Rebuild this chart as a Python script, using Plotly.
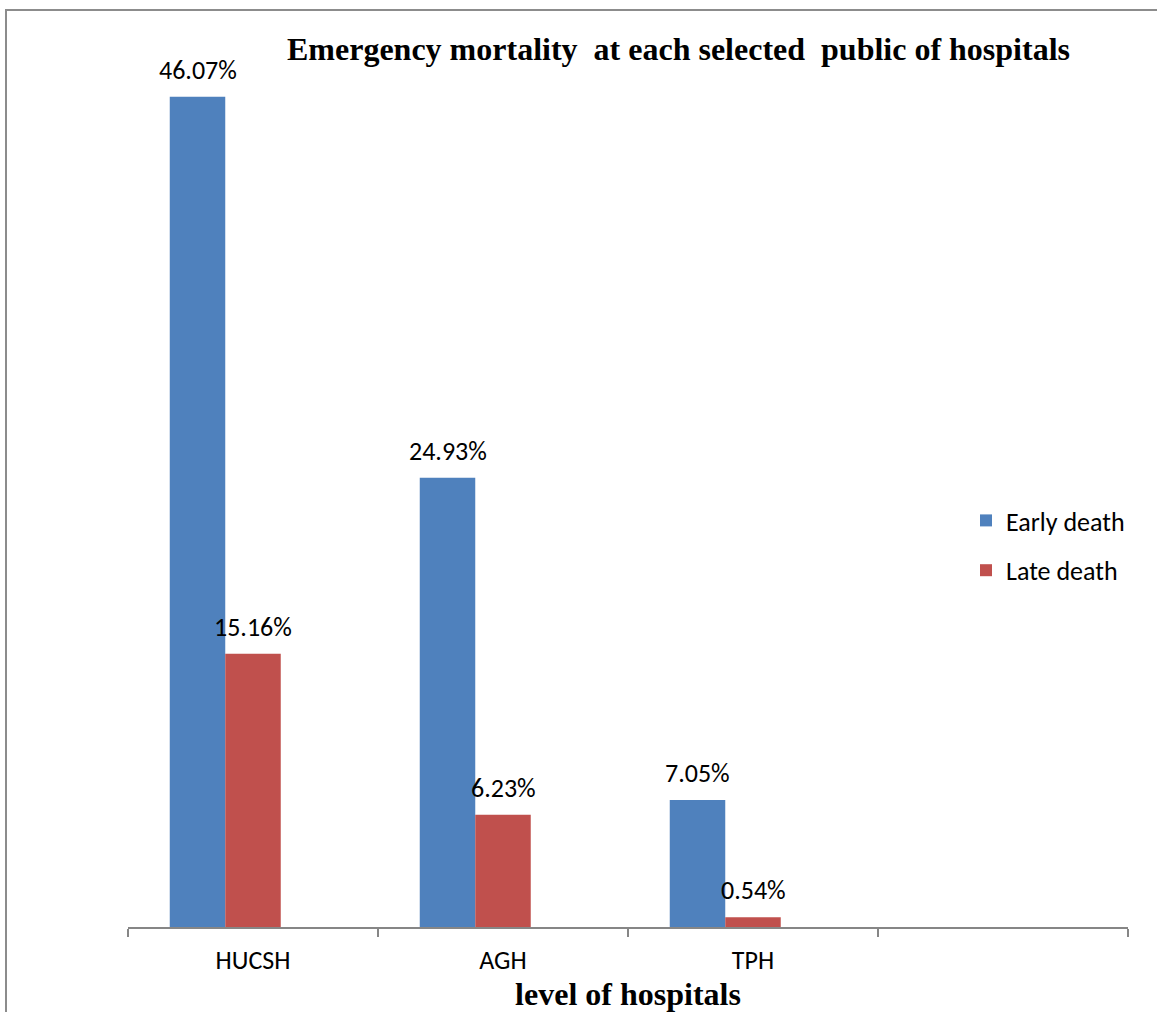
import plotly.graph_objects as go

# Emergency mortality by hospital (percent of deaths)
hospitals = ["HUCSH", "AGH", "TPH"]
early_death = [46.07, 24.93, 7.05]
late_death = [15.16, 6.23, 0.54]
series_names = ["Early death", "Late death"]
series_colors = ["#4F81BD", "#C0504D"]

title_text = "Emergency mortality\u00a0 at each selected\u00a0 public of hospitals"
x_title = "level of hospitals"

W, H = 1157, 1012
M_L, M_R, M_T, M_B = 128, 29, 26, 85
plot_w = W - M_L - M_R
plot_h = H - M_T - M_B

# category slots: three hospitals plus one empty slot on the right
categories = hospitals + [" "]
bar_w = 0.222
offsets = [-0.333, -0.111]

label_font = dict(family="Carlito, Lato, sans-serif", size=26, color="#000000")
serif_bold = dict(family="Liberation Serif, Times New Roman, serif", size=32, color="#000000")

fig = go.Figure()
for name, vals, color, off in zip(series_names, [early_death, late_death], series_colors, offsets):
    fig.add_trace(go.Bar(
        x=hospitals, y=vals, name=name,
        marker=dict(color=color, line=dict(width=0)),
        width=bar_w, offset=off,
        legendgroup=name,
    ))
    for i, v in enumerate(vals):
        fig.add_annotation(
            x=i + off + bar_w / 2, y=v, xref="x", yref="y",
            text=f"{v:.2f}%", showarrow=False,
            yanchor="bottom", yshift=9, font=label_font,
        )

def px_x(px):
    return (px - M_L) / plot_w

def px_y(py):
    return (H - M_B - py) / plot_h

# outer chart frame (top and left edges visible)
fig.add_shape(type="rect", xref="paper", yref="paper",
              x0=px_x(6), x1=px_x(W + 10), y0=px_y(H + 10), y1=px_y(10),
              line=dict(color="#8C8C8C", width=2), fillcolor="rgba(0,0,0,0)", layer="above")

fig.update_layout(
    width=W, height=H,
    margin=dict(l=M_L, r=M_R, t=M_T, b=M_B, autoexpand=False),
    paper_bgcolor="#FFFFFF", plot_bgcolor="#FFFFFF",
    barmode="group",
    title=dict(text=f"<b>{title_text}</b>", font=serif_bold,
               x=678.5 / W, xanchor="center", xref="container",
               y=1 - 49 / H, yanchor="middle", yref="container"),
    showlegend=True,
    legend=dict(font=label_font, traceorder="grouped", tracegroupgap=13,
                xref="container", yref="container",
                x=966 / W, xanchor="left", y=1 - 497 / H, yanchor="top",
                bgcolor="rgba(0,0,0,0)"),
    xaxis=dict(
        type="category", categoryorder="array", categoryarray=categories,
        range=[-0.5, 3.5], tickson="boundaries",
        ticks="outside", ticklen=8, tickwidth=2, tickcolor="#868686",
        showline=True, linecolor="#868686", linewidth=2,
        showgrid=False, zeroline=False,
        tickfont=label_font, ticklabelstandoff=9,
        title=dict(text=f"<b>{x_title}</b>", font=serif_bold, standoff=6),
        automargin=False, fixedrange=True,
    ),
    yaxis=dict(range=[0, 50], visible=False, showgrid=False, zeroline=False,
               fixedrange=True),
)

fig.write_html("out.html")
